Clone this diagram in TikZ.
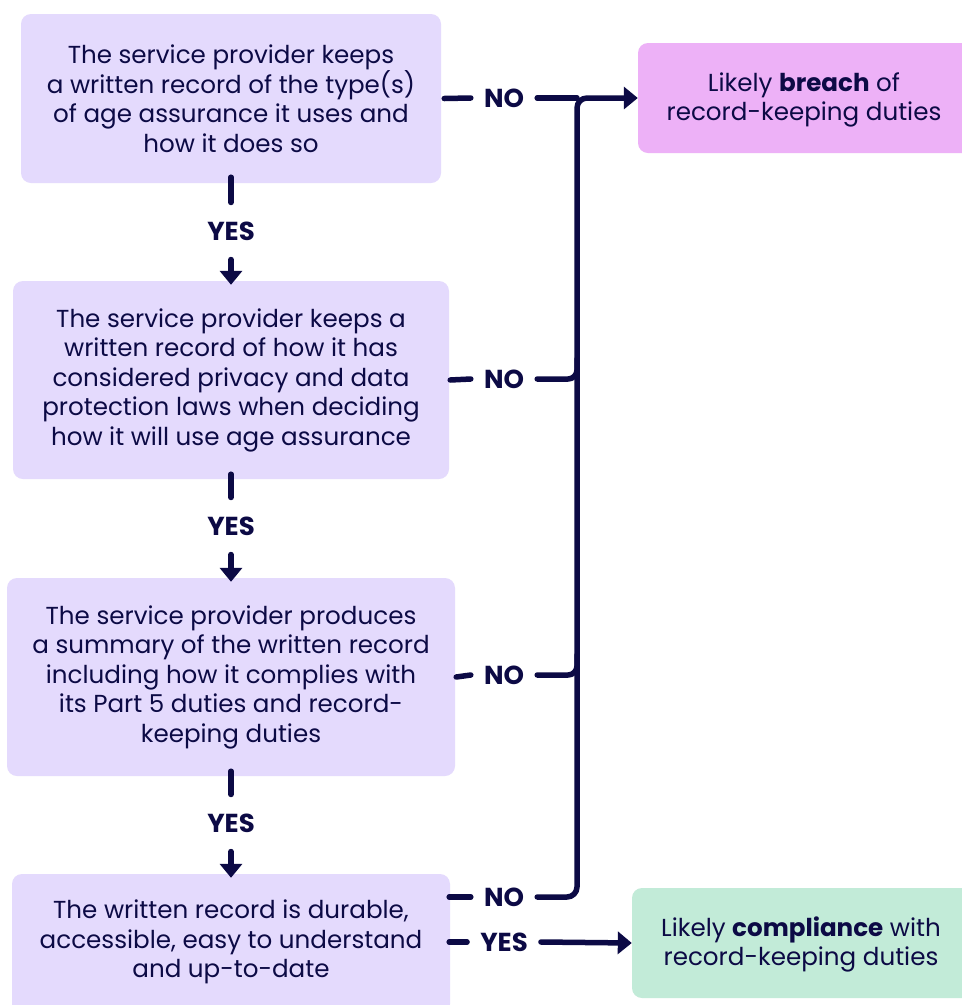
\documentclass[tikz,border=0pt]{standalone}
\usepackage{fontspec}
\setmainfont{Poppins}
\usetikzlibrary{arrows.meta}
\definecolor{lav}{HTML}{E4DAFD}
\definecolor{pinkb}{HTML}{EDB1F7}
\definecolor{greenb}{HTML}{C2EBD8}
\definecolor{navy}{HTML}{0C0A45}
\tikzset{
  box/.style={draw=none, rounded corners=10pt, align=center, text=navy, inner sep=0pt,
    font=\fontsize{24.6}{29.5}\selectfont},
  lblh/.style={text=navy, font=\fontsize{26}{27}\selectfont\bfseries, inner xsep=13pt, inner ysep=2pt},
  lblv/.style={text=navy, font=\fontsize{26}{27}\selectfont\bfseries, inner xsep=2pt, inner ysep=19pt},
  conn/.style={draw=navy, line width=5.5pt, line cap=round, line join=round},
  arr/.style={conn, -{Triangle[length=14pt,width=22pt]}},
}
\begin{document}
\begin{tikzpicture}[x=1pt,y=-1pt]
\useasboundingbox (0,0) rectangle (962,1005);
\clip (0,0) rectangle (962,1005);
\fill[white] (0,0) rectangle (962,1005);
% boxes
\node[box, fill=lav, minimum width=420pt, minimum height=169pt] (b1) at (231,98.5)
  {The service provider keeps\\a written record of the type(s)\\of age assurance it uses and\\how it does so};
\node[box, fill=lav, minimum width=436pt, minimum height=198pt] (b2) at (231,380)
  {The service provider keeps a\\written record of how it has\\considered privacy and data\\protection laws when deciding\\how it will use age assurance};
\node[box, fill=lav, minimum width=448pt, minimum height=198pt] (b3) at (231,677)
  {The service provider produces\\a summary of the written record\\including how it complies with\\its Part 5 duties and record-\\keeping duties};
\node[box, fill=lav, minimum width=438pt, minimum height=140pt] (b4) at (231,944)
  {};
\node[box, anchor=center] (b4t) at (231,942)
  {The written record is durable,\\accessible, easy to understand\\and up-to-date};
\node[box, fill=pinkb, minimum width=334pt, minimum height=110pt] (br) at (805,98)
  {};
\node[box] (brt) at (804,100) {Likely \textbf{breach} of\\record-keeping duties};
\node[box, fill=greenb, minimum width=340pt, minimum height=110pt] (co) at (802,943)
  {};
\node[box] (cot) at (801,944.5) {Likely \textbf{compliance} with\\record-keeping duties};
% labels
\node[lblh] (nA) at (504,98) {NO};
\node[lblh] (nB) at (504,379) {NO};
\node[lblh] (nC) at (504,675) {NO};
\node[lblh] (nD) at (504,897) {NO};
\node[lblh] (yD) at (504,942) {YES};
\node[lblv] (yA) at (231,231) {YES};
\node[lblv] (yB) at (231,526) {YES};
\node[lblv] (yC) at (231,823) {YES};
\coordinate (tTop) at (577,98);
\coordinate (tBot) at (577,897);
% connectors
\draw[conn] ([xshift=3pt]b1.east) -- (nA.west);
\draw[conn] ([xshift=1pt]b2.east) -- (nB.west);
\draw[conn] ([xshift=1pt]b3.east) -- (nC.west);
\draw[conn] ([xshift=-1pt]b4.east |- nD) -- (nD.west);
\draw[conn] ([xshift=-1pt]b4.east |- yD) -- (yD.west);
\draw[conn] (nA.east) -- (tTop);
\draw[arr, rounded corners=10pt] (nD.east) -- (tBot) -- (tTop) -- (br.west);
\draw[conn, rounded corners=9pt] (nB.east) -- (tTop |- nB) -- ([yshift=20pt]tTop |- nB);
\draw[conn, rounded corners=9pt] (nC.east) -- (tTop |- nC) -- ([yshift=20pt]tTop |- nC);
\draw[arr] (yD.east) -- (co.west);
\draw[conn] ([yshift=6pt]b1.south) -- (yA.north);
\draw[arr] (yA.south) -- ([yshift=-4pt]b2.north);
\draw[conn] ([yshift=5pt]b2.south) -- (yB.north);
\draw[arr] (yB.south) -- ([yshift=-4pt]b3.north);
\draw[conn] ([yshift=5pt]b3.south) -- (yC.north);
\draw[arr] (yC.south) -- ([yshift=-4pt]b4.north);
\end{tikzpicture}
\end{document}
